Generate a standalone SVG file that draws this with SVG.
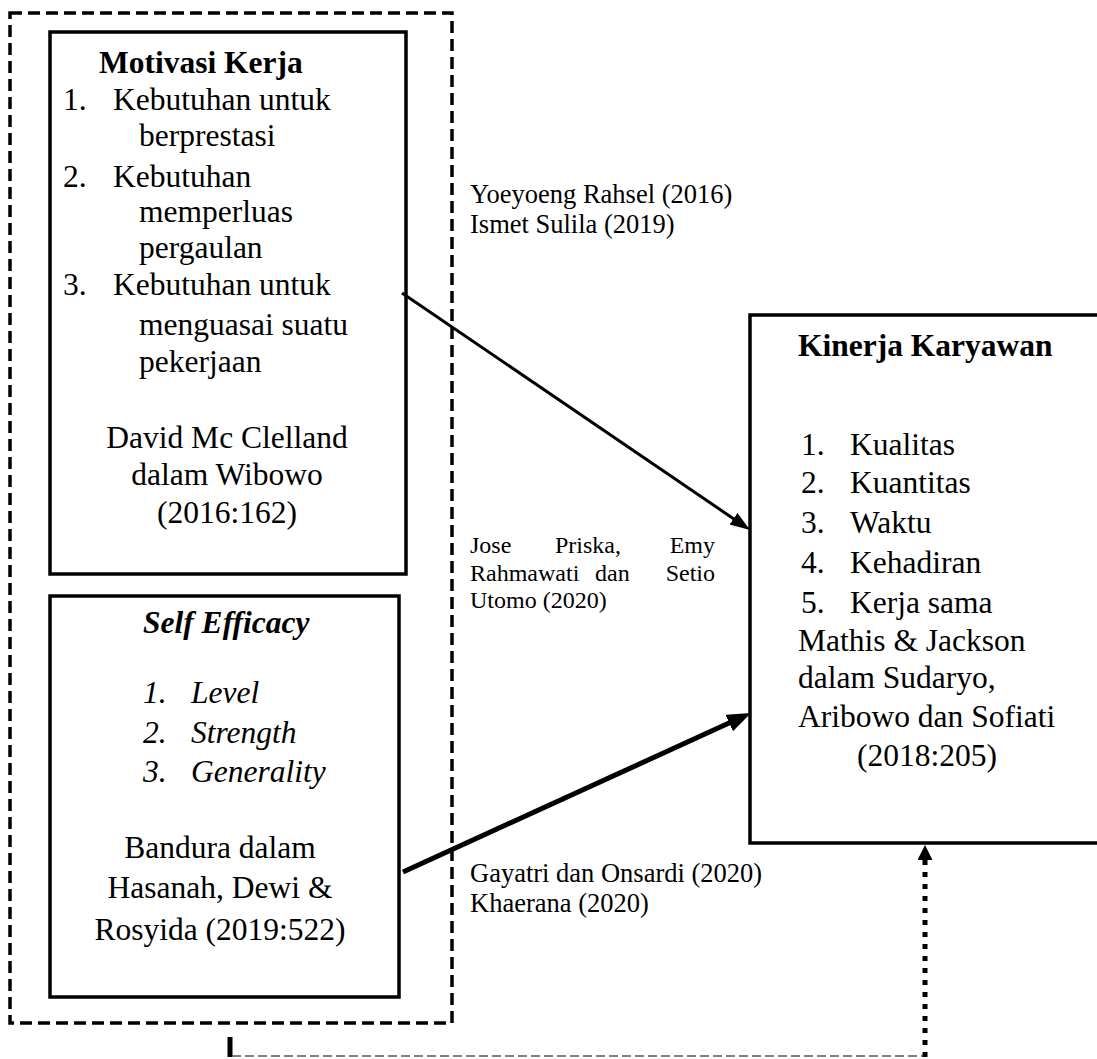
<svg xmlns="http://www.w3.org/2000/svg" width="1097" height="1059" viewBox="0 0 1097 1059">
<style>
  text { font-family: "Liberation Serif", "Times New Roman", serif; fill: #000; }
  .t { font-size: 31.5px; }
  .b { font-weight: bold; }
  .i { font-style: italic; }
  .lab { font-size: 26.5px; }
  .lab2 { font-size: 24px; }
  .box { fill: none; stroke: #000; stroke-width: 3.5; }
  .outer { fill: none; stroke: #000; stroke-width: 3.5; stroke-dasharray: 12 6; }
  .c { text-anchor: middle; }
</style>
<defs>
  <marker id="head1" markerUnits="userSpaceOnUse" markerWidth="22" markerHeight="16" refX="8" refY="7" orient="auto">
    <path d="M0,0 L20,7 L0,14 z" fill="#000"/>
  </marker>
  <marker id="head2" markerUnits="userSpaceOnUse" markerWidth="26" markerHeight="20" refX="10" refY="9" orient="auto">
    <path d="M0,0 L24,9 L0,18 z" fill="#000"/>
  </marker>
  <marker id="head3" markerUnits="userSpaceOnUse" markerWidth="16" markerHeight="16" refX="2" refY="7.5" orient="auto">
    <path d="M0,0 L15,7.5 L0,15 z" fill="#000"/>
  </marker>
</defs>
<rect width="1097" height="1059" fill="#fff"/>

<g id="group-independent">
  <rect class="outer" x="10" y="13" width="442" height="1010"/>
</g>

<g id="node-motivasi">
  <rect class="box" x="50" y="32" width="356" height="542"/>
  <text class="t b" x="99" y="73">Motivasi Kerja</text>
  <text class="t" x="63" y="110">1.</text>
  <text class="t" x="113" y="110">Kebutuhan untuk</text>
  <text class="t" x="139" y="146">berprestasi</text>
  <text class="t" x="63" y="187">2.</text>
  <text class="t" x="113" y="187">Kebutuhan</text>
  <text class="t" x="139" y="222">memperluas</text>
  <text class="t" x="139" y="258">pergaulan</text>
  <text class="t" x="63" y="295">3.</text>
  <text class="t" x="113" y="295">Kebutuhan untuk</text>
  <text class="t" x="139" y="335">menguasai suatu</text>
  <text class="t" x="139" y="372">pekerjaan</text>
  <text class="t c" x="227" y="448">David Mc Clelland</text>
  <text class="t c" x="227" y="485">dalam Wibowo</text>
  <text class="t c" x="227" y="523">(2016:162)</text>
</g>

<g id="node-selfefficacy">
  <rect class="box" x="50" y="596" width="349" height="401"/>
  <text class="t b i" x="143" y="633">Self Efficacy</text>
  <text class="t i" x="143" y="703">1.</text>
  <text class="t i" x="191" y="703">Level</text>
  <text class="t i" x="143" y="743">2.</text>
  <text class="t i" x="191" y="743">Strength</text>
  <text class="t i" x="143" y="782">3.</text>
  <text class="t i" x="191" y="782">Generality</text>
  <text class="t c" x="220" y="858">Bandura dalam</text>
  <text class="t c" x="220" y="898">Hasanah, Dewi &amp;</text>
  <text class="t c" x="220" y="940">Rosyida (2019:522)</text>
</g>

<g id="node-kinerja">
  <rect class="box" x="750" y="315" width="420" height="528"/>
  <text class="t b" x="798" y="356">Kinerja Karyawan</text>
  <text class="t" x="801" y="455">1.</text>
  <text class="t" x="850" y="455">Kualitas</text>
  <text class="t" x="801" y="493">2.</text>
  <text class="t" x="850" y="493">Kuantitas</text>
  <text class="t" x="801" y="533">3.</text>
  <text class="t" x="850" y="533">Waktu</text>
  <text class="t" x="801" y="573">4.</text>
  <text class="t" x="850" y="573">Kehadiran</text>
  <text class="t" x="801" y="613">5.</text>
  <text class="t" x="850" y="613">Kerja sama</text>
  <text class="t" x="798" y="651">Mathis &amp; Jackson</text>
  <text class="t" x="798" y="688">dalam Sudaryo,</text>
  <text class="t" x="798" y="727">Aribowo dan Sofiati</text>
  <text class="t c" x="927" y="766">(2018:205)</text>
</g>

<g id="connectors">
  <line x1="402" y1="293" x2="740.1" y2="523.2" stroke="#000" stroke-width="3" marker-end="url(#head1)"/>
  <line x1="403" y1="872" x2="738.3" y2="718.8" stroke="#000" stroke-width="5" marker-end="url(#head2)"/>
  <line x1="230" y1="1037" x2="230" y2="1057" stroke="#000" stroke-width="5"/>
  <line x1="232" y1="1056" x2="923" y2="1056" stroke="#555" stroke-width="1.6" stroke-dasharray="9 4"/>
  <line x1="925" y1="1057" x2="925" y2="858" stroke="#000" stroke-width="5" stroke-dasharray="5 7" marker-end="url(#head3)"/>
</g>

<g id="labels">
  <text class="lab" x="470" y="203">Yoeyoeng Rahsel (2016)</text>
  <text class="lab" x="470" y="233">Ismet Sulila (2019)</text>
  <text class="lab2" x="470" y="553">Jose</text>
  <text class="lab2" x="555" y="553">Priska,</text>
  <text class="lab2" x="715" y="553" text-anchor="end">Emy</text>
  <text class="lab2" x="470" y="581">Rahmawati</text>
  <text class="lab2" x="595" y="581">dan</text>
  <text class="lab2" x="715" y="581" text-anchor="end">Setio</text>
  <text class="lab2" x="470" y="608">Utomo (2020)</text>
  <text class="lab" x="470" y="882">Gayatri dan Onsardi (2020)</text>
  <text class="lab" x="470" y="912">Khaerana (2020)</text>
</g>
</svg>
